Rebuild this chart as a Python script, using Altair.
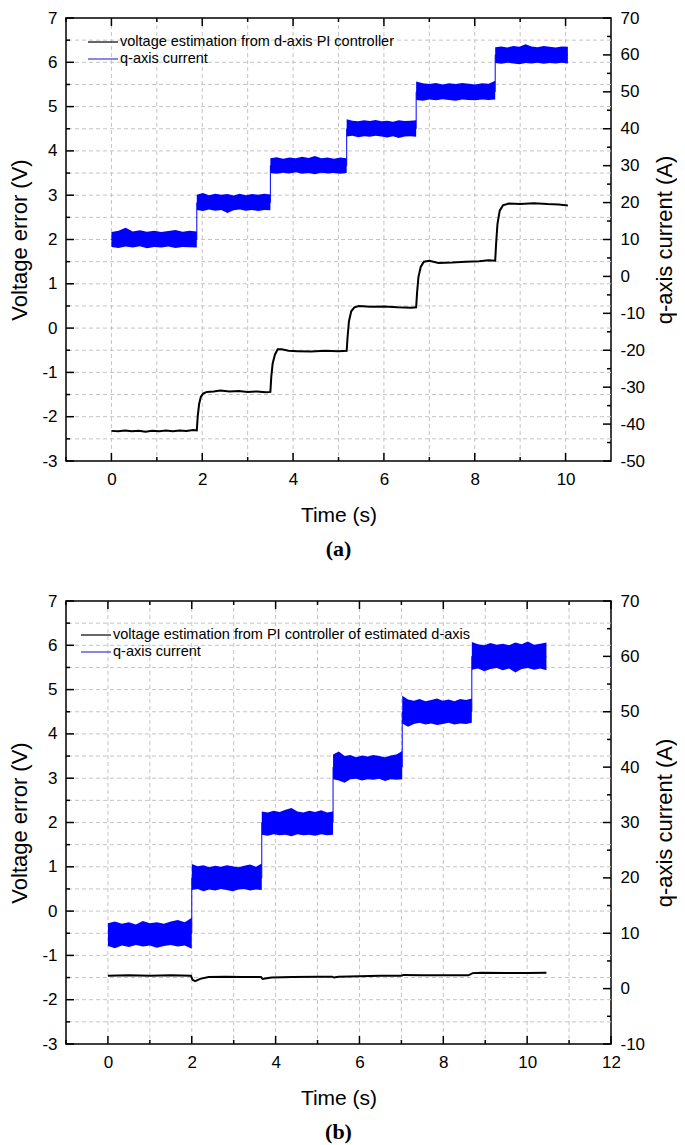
import altair as alt
import pandas as pd
import numpy as np

FONT = "Liberation Sans"

# ---------------- panel (a) data ----------------
a_step_times = [0.0, 1.88, 3.50, 5.18, 6.71, 8.45, 10.05]
a_levels = [10, 20, 30, 40, 50, 60]
a_upper = [
    [12.0, 12.4, 13.2, 12.2, 12.5, 12.1, 12.4, 12.0, 12.3, 12.6, 12.1, 12.4, 12.2],
    [22.1, 22.6, 22.0, 22.4, 22.1, 22.3, 21.9, 22.4, 22.0, 22.3, 22.1, 22.4, 22.2],
    [32.0, 32.3, 31.9, 32.2, 32.0, 32.4, 32.1, 32.6, 32.0, 32.2, 31.9, 32.2, 32.0],
    [42.6, 42.2, 42.0, 42.3, 42.1, 42.4, 42.0, 42.2, 41.9, 42.3, 42.1, 42.2, 42.3],
    [52.8, 52.3, 52.1, 52.4, 52.0, 52.3, 52.1, 52.4, 52.2, 52.0, 52.3, 52.2, 53.0],
    [62.1, 62.3, 62.0, 62.4, 62.2, 62.9, 62.3, 62.1, 62.4, 62.2, 62.0, 62.3, 62.2],
]
a_lower = [
    [8.0, 7.7, 8.1, 7.8, 8.2, 7.6, 8.0, 7.8, 8.1, 7.7, 8.0, 7.9, 7.8],
    [18.0, 17.7, 18.1, 17.8, 18.0, 17.2, 17.9, 18.1, 17.8, 18.0, 17.7, 18.0, 17.9],
    [28.0, 27.8, 28.1, 27.9, 28.2, 27.8, 28.0, 27.7, 28.1, 27.9, 28.0, 27.8, 28.0],
    [37.9, 38.1, 37.7, 38.0, 37.8, 38.1, 37.9, 37.6, 38.0, 37.5, 37.9, 38.0, 37.8],
    [47.8, 47.6, 47.9, 47.7, 48.0, 47.8, 47.6, 47.9, 47.8, 47.7, 47.9, 47.8, 47.9],
    [57.8, 57.6, 57.9, 57.7, 57.5, 57.8, 57.7, 57.9, 57.6, 57.8, 57.7, 57.9, 57.7],
]
a_volt_t = [0.00, 0.15, 0.30, 0.45, 0.60, 0.75, 0.90, 1.05, 1.20, 1.35, 1.50, 1.65, 1.80, 1.88,
            1.90, 1.93, 1.97, 2.02, 2.10, 2.25, 2.40, 2.60, 2.80, 3.00, 3.20, 3.40, 3.50,
            3.52, 3.55, 3.60, 3.66, 3.75, 3.90, 4.10, 4.40, 4.70, 5.00, 5.18,
            5.20, 5.23, 5.28, 5.35, 5.45, 5.70, 6.00, 6.30, 6.60, 6.71,
            6.73, 6.76, 6.81, 6.88, 7.00, 7.20, 7.50, 7.80, 8.10, 8.30, 8.45,
            8.47, 8.50, 8.55, 8.62, 8.75, 9.00, 9.30, 9.60, 9.85, 10.05]
a_volt_v = [-2.32, -2.33, -2.31, -2.33, -2.32, -2.34, -2.32, -2.33, -2.31, -2.33, -2.31, -2.32, -2.30, -2.31,
            -2.00, -1.72, -1.55, -1.48, -1.44, -1.43, -1.41, -1.43, -1.42, -1.44, -1.43, -1.45, -1.44,
            -1.10, -0.80, -0.60, -0.48, -0.48, -0.51, -0.52, -0.53, -0.51, -0.52, -0.51,
            -0.20, 0.15, 0.38, 0.47, 0.50, 0.48, 0.49, 0.47, 0.46, 0.47,
            0.80, 1.15, 1.38, 1.50, 1.52, 1.47, 1.48, 1.50, 1.51, 1.53, 1.52,
            1.90, 2.35, 2.65, 2.77, 2.81, 2.80, 2.82, 2.80, 2.79, 2.77]
a_legend = ["voltage estimation from d-axis PI controller", "q-axis current"]

# ---------------- panel (b) data ----------------
b_step_times = [0.0, 2.00, 3.67, 5.37, 7.02, 8.68, 10.46]
b_levels = [10, 20, 30, 40, 50, 60]
b_upper = [
    [11.8, 12.1, 11.7, 12.0, 11.6, 12.2, 11.8, 12.0, 11.7, 12.1, 12.4, 12.0, 12.8],
    [22.5, 22.1, 22.3, 21.9, 22.2, 22.0, 22.3, 22.1, 21.9, 22.2, 22.4, 22.0, 22.6],
    [32.0, 31.8, 32.1, 31.9, 32.3, 32.6, 32.0, 31.8, 32.1, 31.9, 32.2, 31.8, 32.0],
    [42.3, 42.8, 42.0, 42.2, 41.8, 42.1, 41.9, 42.2, 42.0, 41.8, 42.1, 42.3, 42.9],
    [52.9, 52.2, 52.0, 52.3, 51.9, 52.1, 52.4, 52.0, 52.2, 51.9, 52.3, 52.1, 52.4],
    [62.6, 62.2, 62.0, 62.4, 62.1, 62.3, 62.0, 62.5, 62.2, 62.7, 62.1, 62.3, 62.5],
]
b_lower = [
    [7.7, 7.3, 7.8, 7.5, 7.9, 7.6, 7.8, 7.4, 7.7, 7.9, 7.6, 7.8, 7.2],
    [17.8, 18.0, 17.6, 17.9, 17.7, 18.0, 17.8, 17.6, 17.9, 18.0, 17.7, 17.9, 17.8],
    [27.8, 27.6, 27.9, 27.7, 27.8, 27.5, 27.9, 27.7, 27.8, 27.6, 27.9, 27.7, 27.8],
    [37.8, 37.6, 37.2, 37.8, 37.9, 37.6, 37.8, 37.7, 37.9, 37.5, 37.8, 37.7, 37.8],
    [47.9, 47.3, 47.8, 48.0, 47.7, 47.9, 47.6, 47.8, 48.0, 47.7, 47.9, 47.8, 48.0],
    [57.6, 57.8, 57.3, 57.7, 57.9, 57.5, 57.8, 57.1, 57.7, 57.9, 57.6, 57.8, 57.5],
]
b_volt_t = [0.0, 0.5, 1.0, 1.5, 1.98, 2.02, 2.08, 2.20, 2.40, 2.80, 3.20, 3.65, 3.69, 3.75, 3.90,
            4.40, 5.00, 5.35, 5.39, 5.50, 6.00, 6.50, 7.00, 7.05, 7.50, 8.00, 8.60, 8.70, 8.90,
            9.50, 10.00, 10.46]
b_volt_v = [-1.46, -1.45, -1.46, -1.45, -1.46, -1.55, -1.58, -1.53, -1.49, -1.48, -1.49, -1.49, -1.53, -1.52, -1.50,
            -1.49, -1.48, -1.48, -1.50, -1.48, -1.47, -1.46, -1.46, -1.44, -1.45, -1.45, -1.45, -1.40, -1.39,
            -1.40, -1.40, -1.39]
b_legend = ["voltage estimation from PI controller of estimated d-axis", "q-axis current"]

volt_ticks = list(range(-3, 8))
volt_minor = [v + 0.5 for v in range(-3, 7)]

W, H = 545, 443
LABEL_EXPR = "'' + datum.value"


def make_panel(step_times, levels, upper, lower, vt, vv, xmax, cur_domain,
               legend_labels, legend_pos, caption):
    xs = alt.Scale(domain=[-1, xmax], nice=False, zero=False)
    yv = alt.Scale(domain=[-3, 7], nice=False, zero=False)
    ya = alt.Scale(domain=cur_domain, nice=False, zero=False)

    x_major = list(range(0, xmax + 1, 2))
    x_minor = list(range(-1, xmax, 2))
    x_grid = list(range(0, xmax))
    cur_major = list(range(cur_domain[0], cur_domain[1] + 1, 10))
    cur_minor = list(range(cur_domain[0] + 5, cur_domain[1], 10))

    x_axis = alt.Axis(
        orient="bottom", values=x_major, labelExpr=LABEL_EXPR, title="Time (s)",
        ticks=False, tickSize=0,
        domain=False, grid=False, labelFont=FONT, labelFontSize=17, labelColor="black",
        labelPadding=10, labelFlush=False, labelOverlap=False,
        titleFont=FONT, titleFontSize=21, titleFontWeight="normal", titleColor="black",
        titlePadding=17)

    def X(field):
        return alt.X(field, scale=xs, axis=x_axis, title="Time (s)")

    grid_style = dict(color="#c4c4c4", strokeDash=[4, 3], strokeWidth=1)

    gridx = alt.Chart(pd.DataFrame({"gx": x_grid})).mark_rule(**grid_style).encode(
        x=X("gx:Q"))
    gridy = alt.Chart(pd.DataFrame({"gy": volt_minor + volt_ticks[1:-1]})).mark_rule(**grid_style).encode(
        y=alt.Y("gy:Q", scale=yv, axis=alt.Axis(
            orient="left", values=volt_ticks, labelExpr=LABEL_EXPR, title="Voltage error (V)",
            ticks=False, tickSize=0, domain=False, grid=False,
            labelFont=FONT, labelFontSize=17, labelColor="black", labelPadding=9,
            labelOverlap=False, labelFlush=False,
            titleFont=FONT, titleFontSize=22, titleFontWeight="normal", titleColor="black",
            titlePadding=10))
    )

    tick_style = dict(color="black", strokeWidth=1.5)

    def yticks(vals, scale, x0, x1):
        return alt.Chart(pd.DataFrame({"v": vals})).mark_rule(**tick_style).encode(
            y=alt.Y("v:Q", scale=scale, axis=None), x=alt.value(x0), x2=alt.value(x1))

    def xticks(vals, y0, y1):
        return alt.Chart(pd.DataFrame({"v": vals})).mark_rule(**tick_style).encode(
            x=X("v:Q"), y=alt.value(y0), y2=alt.value(y1))

    ticks = [
        yticks(volt_ticks, yv, 0, 8), yticks(volt_minor, yv, 0, 4),
        yticks(cur_major, ya, W, W - 8), yticks(cur_minor, ya, W, W - 4),
        xticks(x_major, H, H - 8), xticks(x_minor, H, H - 4),
        xticks(x_major, 0, 8), xticks(x_minor, 0, 4),
    ]

    # current band
    rows = []
    for k in range(len(levels)):
        ts = np.linspace(step_times[k], step_times[k + 1], len(upper[k]))
        for t, hi, lo in zip(ts, upper[k], lower[k]):
            rows.append({"t": t, "hi": hi, "lo": lo, "seg": k})
    band_df = pd.DataFrame(rows)
    band = alt.Chart(band_df).mark_area(color="#0000ff", opacity=1).encode(
        x=X("t:Q"),
        y=alt.Y("hi:Q", scale=ya, axis=alt.Axis(
            orient="right", values=cur_major, labelExpr=LABEL_EXPR, title="q-axis current (A)",
            ticks=False, tickSize=0, domain=False, grid=False,
            labelFont=FONT, labelFontSize=17, labelColor="black", labelPadding=9,
            labelOverlap=False, labelFlush=False,
            titleFont=FONT, titleFontSize=22, titleFontWeight="normal", titleColor="black",
            titleAngle=270, titleBaseline="top", titlePadding=10)),
        y2="lo:Q",
        detail="seg:N",
    )

    srows = []
    i = 0
    for k, lev in enumerate(levels):
        srows.append({"t": step_times[k], "a": lev, "i": i}); i += 1
        srows.append({"t": step_times[k + 1], "a": lev, "i": i}); i += 1
    step_line = alt.Chart(pd.DataFrame(srows)).mark_line(color="#0000ff", strokeWidth=1).encode(
        x=X("t:Q"),
        y=alt.Y("a:Q", scale=ya, axis=None),
        order="i:Q",
    )

    vdf = pd.DataFrame({"t": vt, "v": vv, "i": range(len(vt))})
    volt = alt.Chart(vdf).mark_line(color="black", strokeWidth=2).encode(
        x=X("t:Q"),
        y=alt.Y("v:Q", scale=yv, axis=None),
        order="i:Q",
    )

    lx0, lx1, ltx, ly0, ldy = legend_pos
    leg_colors = ["black", "#3a3ad0"]
    leg_layers = []
    for j, lab in enumerate(legend_labels):
        yy = ly0 + ldy * j
        leg_layers.append(alt.Chart(pd.DataFrame({"l": [lab]})).mark_rule(
            color=leg_colors[j], strokeWidth=1.2).encode(
            x=alt.value(lx0), x2=alt.value(lx1), y=alt.value(yy)))
        leg_layers.append(alt.Chart(pd.DataFrame({"l": [lab]})).mark_text(
            align="left", baseline="middle", font=FONT, fontSize=14.5, color="black").encode(
            text="l:N", x=alt.value(ltx), y=alt.value(yy)))

    layers = [gridx, gridy] + ticks + [band, step_line, volt] + leg_layers
    return alt.layer(*layers).resolve_scale(y="independent").properties(
        width=W, height=H,
        title=alt.TitleParams(caption, orient="bottom", font="Liberation Serif",
                              fontWeight="bold", fontSize=22, color="black",
                              anchor="middle", frame="group", offset=14),
    )


panel_a = make_panel(a_step_times, a_levels, a_upper, a_lower, a_volt_t, a_volt_v,
                     11, [-50, 70], a_legend, (22, 52, 54, 24, 17), "(a)")
panel_b = make_panel(b_step_times, b_levels, b_upper, b_lower, b_volt_t, b_volt_v,
                     12, [-10, 70], b_legend, (15, 45, 47, 34, 17), "(b)")

chart = alt.vconcat(panel_a, panel_b, spacing=30).properties(
    padding={"left": 0, "top": 0, "right": 0, "bottom": 0},
    background="white",
).configure_view(stroke="black", strokeWidth=1.5)

chart.save("out.html", embed_options={"renderer": "svg", "actions": False})
